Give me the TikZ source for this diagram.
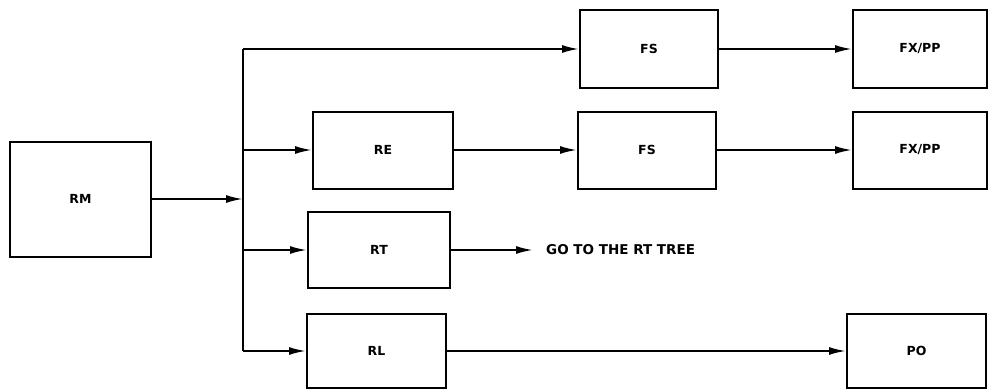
\documentclass[tikz,border=0pt]{standalone}
\usepackage{fontspec}
\setmainfont{DejaVu Sans}
\usetikzlibrary{arrows.meta}
\begin{document}
\begin{tikzpicture}[x=1pt,y=-1pt,
  box/.style={draw,line width=2pt,rectangle,inner sep=0pt,font=\fontsize{12.5}{13}\selectfont\bfseries},
  arr/.style={line width=2pt,-{Latex[length=17pt,width=8pt]}},
  ln/.style={line width=2pt},
  lbl/.style={font=\fontsize{13.5}{14}\selectfont\bfseries,inner sep=0pt}]
\useasboundingbox (0,0) rectangle (988,389);
\node[box,minimum width=141pt,minimum height=115pt] (RM) at (80.5,199) {RM};
\node[box,minimum width=138pt,minimum height=78pt] (FS1) at (649,49) {FS};
\node[box,minimum width=134pt,minimum height=78pt] (FX1) at (920,49) {FX/PP};
\node[box,minimum width=140pt,minimum height=77pt] (RE) at (383,150) {RE};
\node[box,minimum width=138pt,minimum height=77pt] (FS2) at (647,150) {FS};
\node[box,minimum width=134pt,minimum height=77pt] (FX2) at (920,150) {FX/PP};
\node[box,minimum width=142pt,minimum height=76pt] (RT) at (379,250) {RT};
\node[box,minimum width=139pt,minimum height=74pt] (RL) at (376.5,351) {RL};
\node[box,minimum width=139pt,minimum height=74pt] (PO) at (916.5,351) {PO};
\node[lbl,anchor=west] (GO) at (546,250) {GO TO THE RT TREE};
\coordinate (b1) at (243,49);
\coordinate (b2) at (243,150);
\coordinate (b3) at (243,250);
\coordinate (b4) at (243,351);
\coordinate (bm) at (243,199);
\coordinate (go) at (533,250);
\draw[ln] (b1) -- (b4);
\draw[arr] (RM.east) -- (bm);
\draw[arr] (b1) -- (FS1.west);
\draw[arr] (b2) -- (RE.west);
\draw[arr] (b3) -- (RT.west);
\draw[arr] (b4) -- (RL.west);
\draw[arr] (FS1.east) -- (FX1.west);
\draw[arr] (RE.east) -- (FS2.west);
\draw[arr] (FS2.east) -- (FX2.west);
\draw[arr] (RT.east) -- (go);
\draw[arr] (RL.east) -- (PO.west);
\end{tikzpicture}
\end{document}
